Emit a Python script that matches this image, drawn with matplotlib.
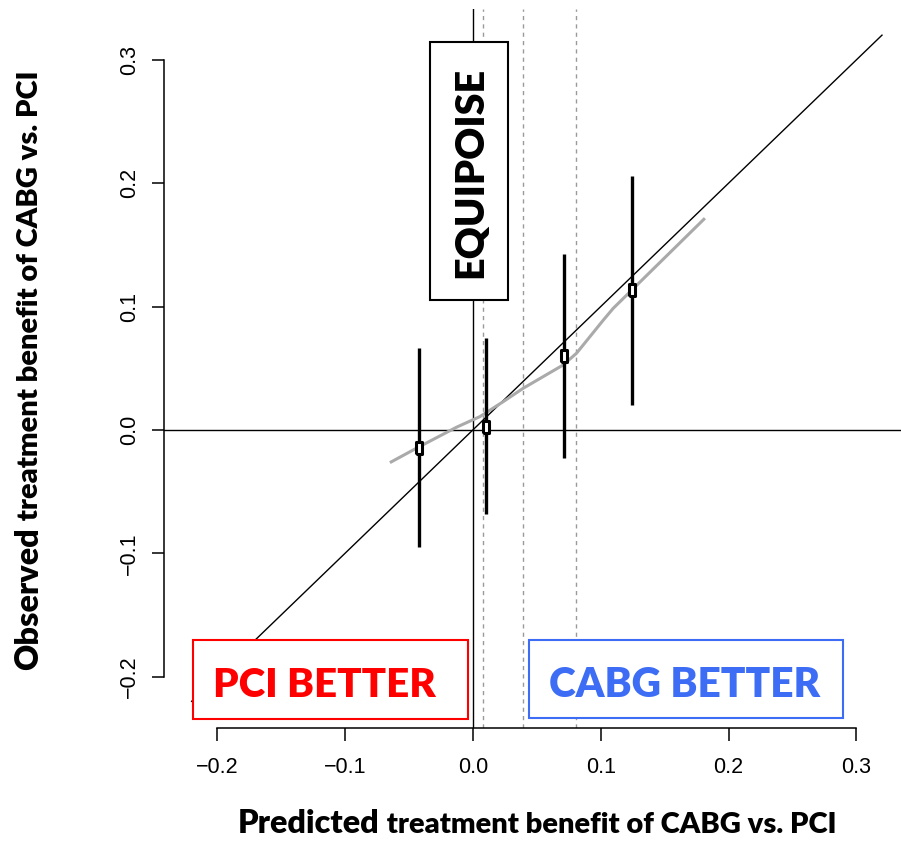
import matplotlib
matplotlib.use("Agg")
import matplotlib.pyplot as plt
from matplotlib.patches import Rectangle

# Observed vs predicted benefit of CABG over PCI, by quartile of predicted benefit
pred_benefit = [-0.0423, 0.0102, 0.0712, 0.1242]
obs_benefit = [-0.0148, 0.0027, 0.0602, 0.1135]
obs_lower = [-0.0950, -0.0680, -0.0224, 0.0203]
obs_upper = [0.0667, 0.0748, 0.1430, 0.2060]

# Smoothed calibration curve
smooth_x = [-0.0649, -0.0441, -0.0128, 0.0055, 0.0237, 0.0394, 0.0707,
            0.0811, 0.1020, 0.1098, 0.1815]
smooth_y = [-0.0265, -0.0148, 0.0022, 0.0108, 0.0229, 0.0338, 0.0527,
            0.0622, 0.0890, 0.0986, 0.1716]

# Quartile cut points of predicted benefit
quartile_cuts = [0.0076, 0.0389, 0.0806]

# Line of perfect agreement
identity = [-0.22, 0.32]

tick_values = [-0.2, -0.1, 0.0, 0.1, 0.2, 0.3]
tick_labels = ["\u22120.2", "\u22120.1", "0.0", "0.1", "0.2", "0.3"]

W, H = 901, 841
fig = plt.figure(figsize=(W / 100, H / 100), dpi=100)
fig.patch.set_facecolor("white")

# plot region in pixels (left, right, top, bottom)
L, R, T, B = 164, 909.6, 8.5, 728
ax = fig.add_axes([L / W, 1 - B / H, (R - L) / W, (B - T) / H])
lim = (-0.2416, 0.3416)
ax.set_xlim(lim)
ax.set_ylim(lim)

for side in ("top", "right"):
    ax.spines[side].set_visible(False)
for side in ("left", "bottom"):
    ax.spines[side].set_bounds(tick_values[0], tick_values[-1])
    ax.spines[side].set_linewidth(1.1)
    ax.spines[side].set_color("black")

ax.set_xticks(tick_values)
ax.set_xticklabels(tick_labels)
ax.set_yticks(tick_values)
ax.set_yticklabels(tick_labels)
ax.tick_params(direction="out", length=9, width=1.1, colors="black",
               labelsize=15.5)
ax.tick_params(axis="x", pad=12)
ax.tick_params(axis="y", pad=8, labelrotation=90)
for lab in ax.get_xticklabels() + ax.get_yticklabels():
    lab.set_family(["Liberation Sans", "DejaVu Sans"])
for lab in ax.get_yticklabels():
    lab.set_va("center")

# reference lines
ax.axhline(0, color="black", lw=1.0, zorder=2)
ax.axvline(0, color="black", lw=1.0, zorder=2)
for c in quartile_cuts:
    ax.axvline(c, color="#9a9a9a", lw=1.0, ls=(0, (3, 3)), zorder=2)
ax.plot(identity, identity, color="black", lw=1.0, zorder=2)

# smoothed curve
ax.plot(smooth_x, smooth_y, color="#aaaaaa", lw=2.2, zorder=3,
        solid_capstyle="butt")

# confidence intervals and group estimates
ax.vlines(pred_benefit, obs_lower, obs_upper, color="black", lw=2.4, zorder=4)
rect_marker = [(-0.24, -0.5), (0.24, -0.5), (0.24, 0.5), (-0.24, 0.5),
               (-0.24, -0.5)]
ax.plot(pred_benefit, obs_benefit, ls="none", marker=rect_marker, ms=8.5,
        mfc="white", mec="black", mew=2.2, zorder=5)

renderer = fig.canvas.get_renderer()
bold_font = dict(family=["Lato", "DejaVu Sans"], weight="heavy")


def fit_length(t, length_px, vertical=False):
    ext = t.get_window_extent(renderer)
    cur = ext.height if vertical else ext.width
    t.set_fontsize(t.get_fontsize() * length_px / cur)
    return t


# labelled boxes
def box(x0, x1, y0, y1, edge):
    ax.add_patch(Rectangle((x0, y0), x1 - x0, y1 - y0, facecolor="white",
                           edgecolor=edge, lw=1.5, zorder=6))


box(-0.0336, 0.0276, 0.1053, 0.3144, "black")
box(-0.2189, -0.0039, -0.2340, -0.1700, "#ff0000")
box(0.0438, 0.2895, -0.2334, -0.1700, "#3d6df5")

t = ax.text(0.0070, 0.2090, "EQUIPOISE", rotation=90, rotation_mode="anchor",
            ha="center", va="baseline", color="black", zorder=7, fontsize=30,
            **bold_font)
fit_length(t, 211, vertical=True)
t = ax.text(-0.1158, -0.2164, "PCI BETTER", ha="center", va="baseline",
            color="#ff0000", zorder=7, fontsize=30, **bold_font)
fit_length(t, 222)
t = ax.text(0.1655, -0.2164, "CABG BETTER", ha="center", va="baseline",
            color="#3d6df5", zorder=7, fontsize=30, **bold_font)
fit_length(t, 271)

# axis titles: emphasised first word followed by smaller text
tx1 = fig.text(238 / W, 1 - 833 / H, "Predicted", ha="left", va="baseline",
               fontsize=20, **bold_font)
fit_length(tx1, 142)
big = tx1.get_fontsize()
e = tx1.get_window_extent(renderer)
tx2 = fig.text(e.x1 / W, 1 - 833 / H, " treatment benefit of CABG vs. PCI",
               ha="left", va="baseline", fontsize=20, **bold_font)
fit_length(tx2, 458)
small = tx2.get_fontsize()

ty1 = fig.text(38 / W, 1 - 670 / H, "Observed", rotation=90,
               rotation_mode="anchor", ha="left", va="baseline",
               fontsize=big, **bold_font)
e = ty1.get_window_extent(renderer)
fig.text(38 / W, e.y1 / H, " treatment benefit of CABG vs. PCI", rotation=90,
         rotation_mode="anchor", ha="left", va="baseline", fontsize=small,
         **bold_font)

fig.savefig("out.png", dpi=100, facecolor="white")
